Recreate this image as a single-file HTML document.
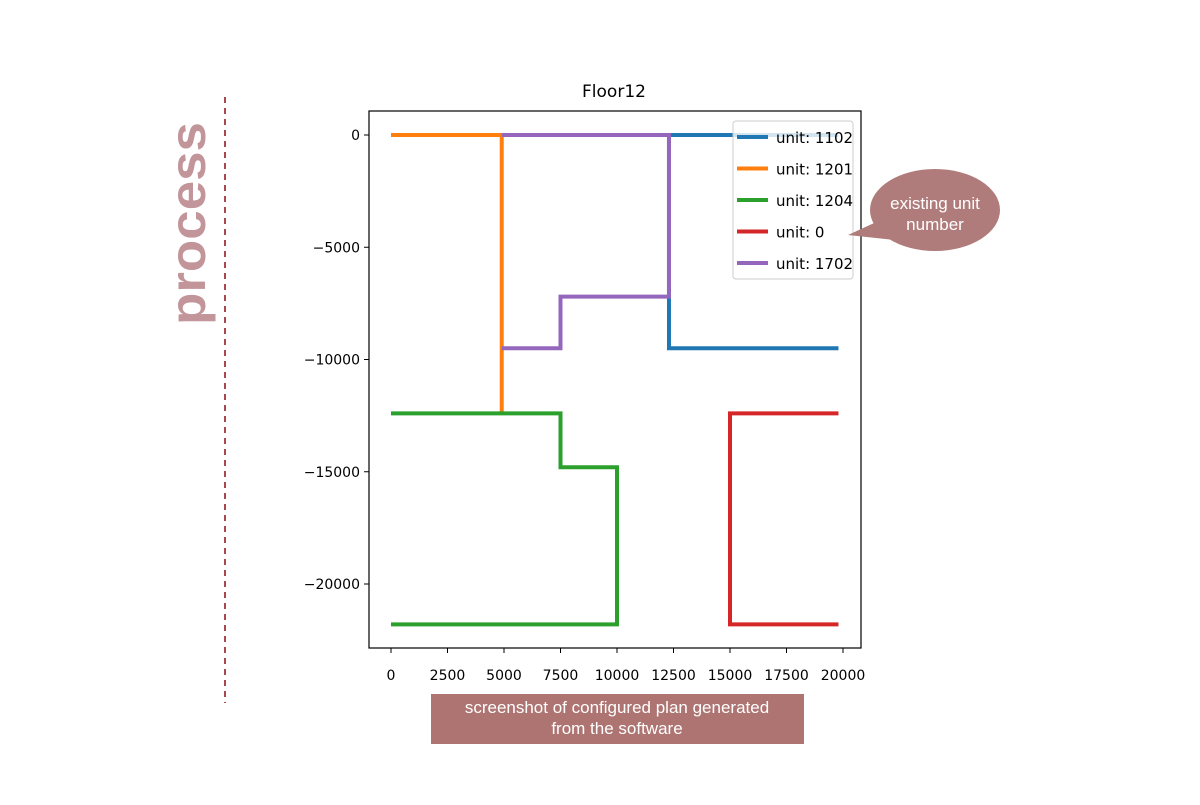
<!DOCTYPE html>
<html><head><meta charset="utf-8"><style>
body{margin:0;background:#fff;width:1200px;height:800px;overflow:hidden}
svg text{font-family:"DejaVu Sans","Liberation Sans",sans-serif}
</style></head><body>
<svg id="c" width="1200" height="800">
<line x1="225" y1="97" x2="225" y2="703" stroke="#a8474c" stroke-width="2" stroke-dasharray="6,5"/>
<text transform="translate(205,325) rotate(-90)" font-size="50" font-weight="bold" fill="#c2959a" textLength="203" lengthAdjust="spacingAndGlyphs" style="font-family:'Liberation Sans',sans-serif">process</text>
<text x="614" y="97" text-anchor="middle" font-size="17" fill="#000">Floor12</text>
<g id="axes"></g>
<g id="marks"></g>
<rect x="369" y="111" width="492" height="537" fill="none" stroke="#000" stroke-width="1.2"/>
<g id="legend"></g>
<path d="M848,235 L885,218 L895,240 Z" fill="#b07c7b"/>
<ellipse cx="935" cy="210" rx="65" ry="41" fill="#b07c7b"/>
<text x="935" y="209" text-anchor="middle" font-size="17" fill="#fff" style="font-family:'Liberation Sans',sans-serif">existing unit</text>
<text x="935" y="230" text-anchor="middle" font-size="17" fill="#fff" style="font-family:'Liberation Sans',sans-serif">number</text>
<rect x="431" y="694" width="373" height="50" fill="#ad7472"/>
<text x="617" y="713" text-anchor="middle" font-size="17" fill="#fff" style="font-family:'Liberation Sans',sans-serif">screenshot of configured plan generated</text>
<text x="617" y="734" text-anchor="middle" font-size="17" fill="#fff" style="font-family:'Liberation Sans',sans-serif">from the software</text>
</svg>
<script>
const xTicks=[0,2500,5000,7500,10000,12500,15000,17500,20000];
const yTicks=[0,-5000,-10000,-15000,-20000];
const seriesNames=["unit: 1102","unit: 1201","unit: 1204","unit: 0","unit: 1702"];
const seriesColors=["#1f77b4","#ff7f0e","#2ca02c","#d62728","#9467bd"];
const s1102x=[19800,12300,12300,19800];
const s1102y=[0,0,-9500,-9500];
const s1201x=[0,4900,4900];
const s1201y=[0,0,-12400];
const s1204x=[0,7500,7500,10000,10000,0];
const s1204y=[-12400,-12400,-14800,-14800,-21800,-21800];
const s0x=[19800,15000,15000,19800];
const s0y=[-12400,-12400,-21800,-21800];
const s1702x=[4900,12300,12300,7500,7500,4900];
const s1702y=[0,0,-7200,-7200,-9500,-9500];
const NS="http://www.w3.org/2000/svg";
const X=v=>391+v*(843-391)/20000;
const Y=v=>135+(-v)*(584-135)/20000;
const ax=document.getElementById('axes'),mk=document.getElementById('marks'),lg=document.getElementById('legend');
function mkEl(t,a,p){const e=document.createElementNS(NS,t);for(const k in a)e.setAttribute(k,a[k]);p.appendChild(e);return e;}
xTicks.forEach(v=>{
const l=mkEl('line',{x1:X(v),x2:X(v),y1:648,y2:653,stroke:'#000'},ax);


const t=mkEl('text',{x:X(v),y:680,'text-anchor':'middle','font-size':14},ax);t.textContent=v;


});
yTicks.forEach(v=>{
const l=mkEl('line',{x1:364,x2:369,y1:Y(v),y2:Y(v),stroke:'#000'},ax);


const t=mkEl('text',{x:360,y:Y(v)+5,'text-anchor':'end','font-size':14},ax);t.textContent=v===0?'0':'\u2212'+(-v);


});
const data=[[s1102x,s1102y],[s1201x,s1201y],[s1204x,s1204y],[s0x,s0y],[s1702x,s1702y]];
data.forEach((d,i)=>{
const p=mkEl('polyline',{points:d[0].map((x,j)=>X(x)+','+Y(d[1][j])).join(' '),fill:'none',stroke:seriesColors[i],'stroke-width':4},mk);


});
const box=mkEl('rect',{x:733,y:121,width:120,height:158,rx:3,fill:'#fff','fill-opacity':0.8,stroke:'#ccc'},lg);


seriesNames.forEach((n,i)=>{
const y=137+i*31.5;
const l=mkEl('line',{x1:737,x2:768,y1:y,y2:y,stroke:seriesColors[i],'stroke-width':4},lg);


const t=mkEl('text',{x:776,y:y+6,'font-size':15},lg);t.textContent=n;


});
</script>
</body></html>
